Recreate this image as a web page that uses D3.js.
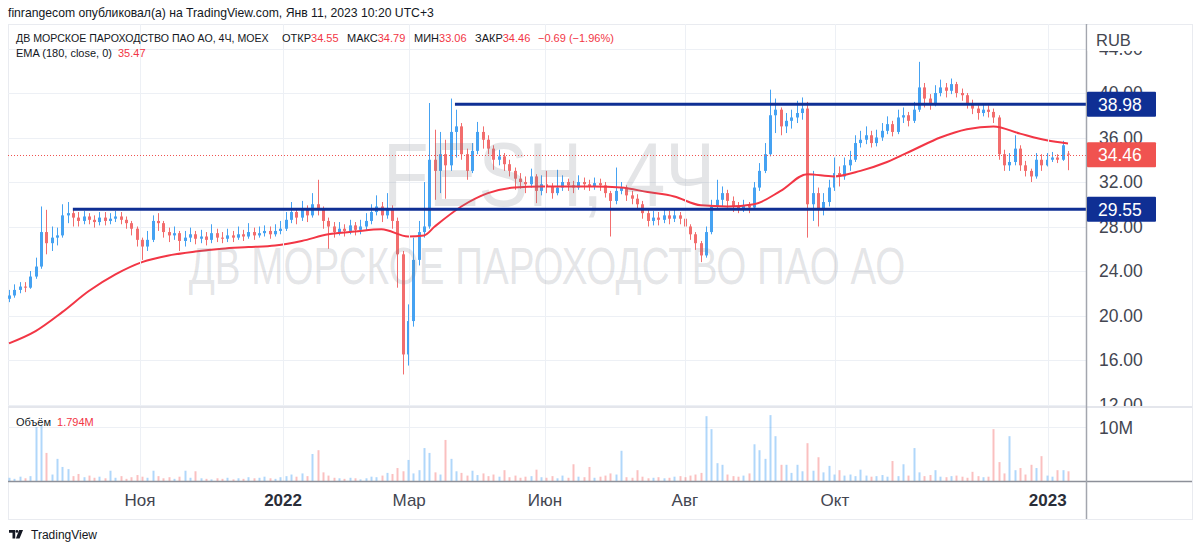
<!DOCTYPE html>
<html><head><meta charset="utf-8">
<script src="https://cdn.jsdelivr.net/npm/d3@7"></script>
<style>
html,body{margin:0;padding:0;background:#fff;}
svg{display:block;font-family:"Liberation Sans",Arial,sans-serif;}
</style></head><body><svg id="c" width="1200" height="551"></svg>
<script>
const opens = [21.5,21.8,22.3,22.6,22.5,23.5,24.4,27.5,26.5,27.0,
27.2,29.0,29.2,28.8,28.5,28.9,28.6,28.4,28.8,28.5,
28.7,28.9,28.6,28.3,27.8,26.8,26.2,26.8,28.5,28.3,
27.5,27.2,27.4,26.7,27.0,27.3,26.9,27.1,26.8,27.4,
27.0,26.9,27.2,27.0,27.3,27.1,27.5,27.2,27.4,27.6,
27.3,27.6,27.8,28.6,29.3,28.8,29.5,29.0,30.0,29.5,
28.5,28.0,27.5,27.8,27.6,28.1,27.7,28.0,28.5,29.3,
29.8,29.0,29.5,28.5,25.5,16.5,19.5,25.0,27.5,28.0,
34.0,33.0,34.5,33.5,36.5,37.0,34.5,33.0,34.8,36.5,
35.8,35.0,34.0,34.3,33.6,33.0,32.3,32.0,31.8,32.5,
31.2,31.8,31.6,31.0,31.5,32.0,31.7,31.5,32.0,31.8,
31.6,31.9,31.7,31.0,30.3,31.2,31.5,30.8,30.5,30.0,
29.2,28.5,28.8,28.6,29.0,28.7,29.0,28.7,28.0,27.3,
26.5,25.4,27.5,29.8,30.4,31.0,30.3,29.8,29.6,29.9,
29.7,31.5,33.0,34.5,38.0,38.5,37.0,37.5,37.8,38.2,
38.6,30.0,31.0,29.5,30.2,31.5,32.8,32.5,33.5,34.0,
35.5,35.8,36.2,35.5,36.0,36.6,37.2,36.5,37.8,38.0,
37.5,38.5,40.5,39.5,39.0,40.0,40.5,40.2,40.8,40.0,
39.8,39.0,38.6,38.2,38.5,38.3,37.8,34.5,33.5,33.8,
35.0,33.5,33.0,32.5,34.0,33.5,34.0,34.2,34.0,34.55];
const highs = [22.3,22.8,23.0,23.0,24.0,25.2,29.8,29.5,28.0,27.9,
30.0,30.2,29.6,29.3,29.4,29.2,29.0,29.3,29.3,29.2,
29.4,29.3,28.9,28.5,28.0,27.0,27.6,29.0,29.2,28.5,
27.9,28.0,27.6,27.6,27.9,27.6,27.7,27.5,28.2,27.8,
27.5,27.8,27.6,28.0,27.7,28.3,27.9,28.0,28.1,28.0,
28.2,28.5,29.3,30.2,29.6,30.3,29.9,31.0,32.2,29.8,
28.8,28.4,28.4,28.2,28.6,28.4,28.6,29.2,30.0,30.8,
30.2,31.0,29.9,28.8,25.8,21.0,27.0,28.5,32.0,39.1,
36.7,36.5,35.8,39.5,38.5,37.3,35.0,35.5,37.4,37.0,
36.2,35.3,34.9,34.6,34.0,33.3,32.8,32.5,33.2,32.7,
32.6,33.0,31.9,33.1,32.6,32.3,32.1,32.6,32.4,32.2,
32.4,32.3,32.0,31.2,33.3,32.0,31.7,31.2,30.9,30.3,
29.5,29.4,29.3,29.6,29.4,29.5,29.3,28.9,28.2,27.5,
26.7,28.0,30.4,32.2,31.6,31.3,30.7,30.2,30.4,30.2,
32.0,33.7,35.5,40.3,39.5,38.7,38.2,38.5,39.3,39.6,
39.2,33.0,31.5,31.0,32.2,34.2,33.4,34.2,34.8,36.2,
36.6,37.0,36.6,36.7,37.3,37.9,37.5,38.5,38.7,38.3,
39.2,42.8,40.9,39.9,40.7,41.2,40.9,41.3,41.0,40.4,
40.0,39.4,38.9,39.1,38.9,38.6,38.0,34.9,34.6,36.2,
35.3,33.9,33.2,34.6,34.5,34.6,34.7,34.5,35.7,34.79];
const lows = [21.2,21.6,22.0,22.1,22.4,23.3,24.2,25.5,25.8,26.3,
27.0,28.3,28.0,28.0,28.2,28.2,27.9,28.1,28.1,28.2,
28.4,28.2,27.8,27.2,26.2,25.0,25.8,26.6,27.6,27.0,
26.6,26.8,25.8,26.2,26.6,26.4,26.5,26.3,26.5,26.6,
26.5,26.6,26.6,26.8,26.7,26.9,26.8,27.0,27.1,26.9,
27.1,27.3,27.6,28.3,28.2,28.5,28.4,28.8,29.0,27.8,
26.0,27.0,27.2,27.1,27.3,27.2,27.3,27.7,28.2,29.0,
28.4,28.7,27.8,22.5,14.7,15.5,19.0,24.5,27.0,27.8,
30.4,31.0,30.5,33.0,34.2,34.0,32.2,32.8,34.5,35.0,
34.5,33.1,33.5,33.0,32.5,31.3,31.4,31.0,31.5,30.1,
30.8,31.0,30.5,30.8,31.2,31.2,31.0,31.3,31.3,31.2,
31.3,31.2,30.6,27.1,30.0,30.9,30.3,30.0,29.5,28.7,
28.0,28.1,28.1,28.3,28.2,28.4,28.2,27.5,26.8,25.9,
24.8,25.2,27.3,29.5,29.8,29.7,29.3,29.2,29.3,29.2,
29.5,31.2,32.8,34.3,36.4,36.2,36.4,36.8,37.3,37.6,
27.0,28.5,28.0,29.0,29.8,31.2,31.6,32.2,33.0,33.8,
35.1,35.4,35.1,35.2,35.7,36.3,36.1,36.3,37.3,37.0,
37.3,38.3,38.7,38.5,38.8,39.7,39.6,39.9,39.6,39.3,
38.6,38.1,37.6,37.9,37.8,37.3,34.0,33.0,33.0,33.5,
33.0,32.5,32.0,32.3,33.0,33.4,33.8,33.7,33.9,33.06];
const closes = [21.8,22.3,22.6,22.5,23.5,24.4,27.5,26.5,27.0,27.2,
29.0,29.2,28.8,28.5,28.9,28.6,28.4,28.8,28.5,28.7,
28.9,28.6,28.3,27.8,26.8,26.2,26.8,28.5,28.3,27.5,
27.2,27.4,26.7,27.0,27.3,26.9,27.1,26.8,27.4,27.0,
26.9,27.2,27.0,27.3,27.1,27.5,27.2,27.4,27.6,27.3,
27.6,27.8,28.6,29.3,28.8,29.5,29.0,30.0,29.5,28.5,
28.0,27.5,27.8,27.6,28.1,27.7,28.0,28.5,29.3,29.8,
29.0,29.5,28.5,25.5,16.5,19.5,25.0,27.5,28.0,34.0,
33.0,34.5,33.5,36.5,37.0,34.5,33.0,34.8,36.5,35.8,
35.0,34.0,34.3,33.6,33.0,32.3,32.0,31.8,32.5,31.2,
31.8,31.6,31.0,31.5,32.0,31.7,31.5,32.0,31.8,31.6,
31.9,31.7,31.0,30.3,31.2,31.5,30.8,30.5,30.0,29.2,
28.5,28.8,28.6,29.0,28.7,29.0,28.7,28.0,27.3,26.5,
25.4,27.5,29.8,30.4,31.0,30.3,29.8,29.6,29.9,29.7,
31.5,33.0,34.5,38.0,38.5,37.0,37.5,37.8,38.2,38.6,
30.0,31.0,29.5,30.2,31.5,32.8,32.5,33.5,34.0,35.5,
35.8,36.2,35.5,36.0,36.6,37.2,36.5,37.8,38.0,37.5,
38.5,40.5,39.5,39.0,40.0,40.5,40.2,40.8,40.0,39.8,
39.0,38.6,38.2,38.5,38.3,37.8,34.5,33.5,33.8,35.0,
33.5,33.0,32.5,34.0,33.5,34.0,34.2,34.0,35.3,34.46];
const volumes = [0.6,0.4,0.8,0.5,0.9,10.0,10.2,5.2,1.2,4.1,
2.6,2.2,0.9,1.3,0.7,1.0,0.6,0.8,0.5,1.9,
0.6,0.9,0.4,0.7,1.1,0.8,0.6,1.9,0.9,0.5,
0.7,0.4,0.8,1.9,0.6,1.8,0.5,0.4,0.3,0.5,
0.4,0.6,0.3,0.5,0.4,0.7,0.5,0.6,0.8,0.5,
0.4,0.7,0.9,1.2,0.8,1.4,0.9,5.0,5.7,1.6,
1.0,0.6,0.5,0.4,0.6,0.5,0.3,0.5,0.8,0.7,
1.0,1.5,1.3,2.4,1.8,3.9,1.4,2.0,6.1,5.2,
1.6,1.2,7.6,4.1,1.8,1.5,1.0,1.9,1.1,1.4,
0.9,1.2,0.8,2.0,0.7,1.0,0.6,0.8,0.9,2.1,
0.7,0.6,0.9,0.5,1.0,0.6,3.1,0.8,0.7,2.6,
0.6,0.8,1.0,1.4,1.2,5.6,0.7,0.6,2.0,0.8,
0.5,0.6,0.7,0.5,0.6,0.8,0.9,0.7,1.0,1.2,
1.5,12.0,9.6,3.3,3.0,1.2,0.9,0.8,1.0,1.4,
6.8,5.7,4.1,12.2,8.3,3.0,3.0,1.5,3.0,1.8,
7.0,1.9,4.4,1.6,2.8,1.2,2.0,1.0,1.2,0.9,
2.1,1.0,0.8,0.9,1.1,0.8,3.7,0.9,3.1,1.0,
6.1,1.6,0.9,1.1,2.0,0.8,0.7,0.9,1.0,0.8,
0.6,1.7,0.9,0.7,0.8,9.6,3.5,1.4,8.3,2.0,
2.4,1.2,3.0,2.4,4.6,1.0,0.8,2.0,2.0,1.794];
const emaBars = [0,5,10,15,20,25,30,35,40,45,50,55,60,65,70,75,78,80,85,90,95,100,105,110,115,120,125,130,135,140,145,150,155,160,165,170,175,180,185,190,195,199];
const emaValues = [17.5,18.6,20.3,22.2,23.7,24.8,25.4,25.75,26.0,26.15,26.3,26.7,27.3,27.55,27.75,27.1,27.2,28.0,29.8,31.0,31.5,31.6,31.6,31.6,31.5,31.1,30.7,29.9,29.8,30.0,31.2,32.7,32.5,33.0,33.8,34.9,36.0,36.75,37.0,36.35,35.75,35.47];
const priceTicks = [12,16,20,24,28,32,36,40,44];
const timeTickBars = [24.6,51.5,75.2,100.7,127.0,155.2,195.2];
const timeTickLabels = ["Ноя","2022","Мар","Июн","Авг","Окт","2023"];
const timeTickBold = [false,true,false,false,false,false,true];
const levelPrices = [38.98, 29.55];
const levelStartBars = [83.8, 12.0];
const lastPrice = 34.46;
const emaLast = 35.47;
const volumeLast = "1.794M";

const UP = "#45a2f2", DOWN = "#f26d6d";
const VUP = "rgba(66,160,242,0.42)", VDOWN = "rgba(242,106,106,0.42)";
const GRID = "#edf0f5";
const N = closes.length;
const L = 8, R = 1086, TOP = 24, SEP = 407, TAX = 481, BOT = 519, RIGHT = 1192;

const svg = d3.select("#c");
const x = d3.scaleLinear().domain([0, N - 1]).range([9, 1068]);
const y = d3.scaleLinear().domain([12, 44]).range([404.5, 48.5]);
const yv = d3.scaleLinear().domain([0, 10]).range([TAX, 427]);

const defs = svg.append("defs");
defs.append("clipPath").attr("id","pp").append("rect").attr("x",L).attr("y",TOP).attr("width",R-L).attr("height",SEP-TOP);
defs.append("clipPath").attr("id","ap").append("rect").attr("x",R).attr("y",TOP).attr("width",RIGHT-R).attr("height",SEP-TOP-1);
defs.append("clipPath").attr("id","vp").append("rect").attr("x",L).attr("y",SEP).attr("width",R-L).attr("height",TAX-SEP);

// frame
svg.append("rect").attr("x",L+0.5).attr("y",TOP+0.5).attr("width",RIGHT-L).attr("height",BOT-TOP).attr("fill","none").attr("stroke","#e9ebf0");

// grids
const g = svg.append("g").attr("clip-path","url(#pp)");
g.selectAll("line.h").data(priceTicks).join("line")
  .attr("x1",L).attr("x2",R).attr("y1",d=>Math.round(y(d))+0.5).attr("y2",d=>Math.round(y(d))+0.5)
  .attr("stroke",GRID);
svg.selectAll("line.v").data(timeTickBars).join("line")
  .attr("x1",d=>Math.round(x(d))+0.5).attr("x2",d=>Math.round(x(d))+0.5).attr("y1",TOP).attr("y2",TAX)
  .attr("stroke",GRID);
svg.append("line").attr("x1",L).attr("x2",R).attr("y1",Math.round(yv(10))+0.5).attr("y2",Math.round(yv(10))+0.5).attr("stroke",GRID);
svg.append("line").attr("x1",L).attr("x2",RIGHT).attr("y1",SEP).attr("y2",SEP).attr("stroke","#e4e6ec").attr("stroke-width",2);

// watermark (sized by measured width, stretched vertically)
function watermark(txt, cx, baseY, targetW, targetFont){
  const t = svg.append("text").attr("text-anchor","middle").attr("font-size",targetFont)
    .attr("fill","rgba(120,123,134,0.2)").text(txt);
  const w = t.node().getComputedTextLength();
  const fs = targetFont * targetW / w;
  t.attr("font-size",fs).attr("transform",`translate(${cx},${baseY}) scale(1,${targetFont/fs})`);
}
watermark("FESH, 4Ч", 549, 206, 332, 90);
watermark("ДВ МОРСКОЕ ПАРОХОДСТВО ПАО АО", 547, 284, 717, 51);

// last price dotted line
svg.append("line").attr("x1",L).attr("x2",R).attr("y1",Math.round(y(lastPrice))+0.5).attr("y2",Math.round(y(lastPrice))+0.5)
  .attr("stroke","#f05350").attr("stroke-dasharray","1,2");

// candles
const pc = g.append("g");
const idx = d3.range(N);
pc.selectAll("line.w").data(idx).join("line")
  .attr("x1",i=>Math.round(x(i))+0.5).attr("x2",i=>Math.round(x(i))+0.5)
  .attr("y1",i=>y(highs[i])).attr("y2",i=>y(lows[i]))
  .attr("stroke",i=>closes[i]>=opens[i]?UP:DOWN).attr("stroke-width",1);
pc.selectAll("rect.b").data(idx).join("rect")
  .attr("x",i=>Math.round(x(i))-1).attr("width",3)
  .attr("y",i=>y(Math.max(opens[i],closes[i])))
  .attr("height",i=>Math.max(1,Math.abs(y(opens[i])-y(closes[i]))))
  .attr("fill",i=>closes[i]>=opens[i]?UP:DOWN);

// EMA
g.append("path").datum(emaBars.map((b,k)=>[b,emaValues[k]]))
  .attr("d",d3.line().x(d=>x(d[0])).y(d=>y(d[1])).curve(d3.curveMonotoneX))
  .attr("fill","none").attr("stroke","#f23645").attr("stroke-width",2);

// horizontal levels
levelPrices.forEach((p,k)=>{
  svg.append("line").attr("x1",x(levelStartBars[k])).attr("x2",R).attr("y1",y(p)).attr("y2",y(p))
    .attr("stroke","#0f2f94").attr("stroke-width",3);
});

// volume
const vg = svg.append("g").attr("clip-path","url(#vp)");
vg.selectAll("rect").data(idx).join("rect")
  .attr("x",i=>Math.round(x(i))-0.5).attr("width",2)
  .attr("y",i=>yv(volumes[i])).attr("height",i=>TAX-yv(volumes[i]))
  .attr("fill",i=>closes[i]>=opens[i]?VUP:VDOWN);

// axis lines
svg.append("line").attr("x1",L).attr("x2",RIGHT).attr("y1",TAX+0.5).attr("y2",TAX+0.5).attr("stroke","#8d9099").attr("stroke-width",1.5);
svg.append("line").attr("x1",R+0.5).attr("x2",R+0.5).attr("y1",TOP).attr("y2",BOT).attr("stroke","#a3a6ae").attr("stroke-width",1.5);

// price axis labels
const AX = 17.5;
const ag = svg.append("g").attr("clip-path","url(#ap)");
ag.selectAll("text").data(priceTicks).join("text")
  .attr("x",1099).attr("y",d=>y(d)).attr("dy","0.36em")
  .attr("font-size",AX).attr("fill","#434651").text(d=>d.toFixed(2));
// RUB box
svg.append("rect").attr("x",R+1.5).attr("y",TOP+1).attr("width",RIGHT-R-2).attr("height",26).attr("fill","#fff");
svg.append("text").attr("x",1096).attr("y",40).attr("dy","0.36em").attr("font-size",16.5).attr("fill","#434651").text("RUB");

// level labels
const boxes = [{p:levelPrices[0],c:"#0f2f94"},{p:levelPrices[1],c:"#0f2f94"},{p:lastPrice,c:"#f05350"}];
boxes.forEach(b=>{
  svg.append("rect").attr("x",R+1).attr("y",y(b.p)-12.5).attr("width",69).attr("height",25).attr("rx",1).attr("fill",b.c);
  svg.append("text").attr("x",1098).attr("y",y(b.p)).attr("dy","0.36em").attr("font-size",AX).attr("fill","#fff").text(b.p.toFixed(2));
});
svg.append("text").attr("x",1099).attr("y",428).attr("dy","0.36em").attr("font-size",AX).attr("fill","#434651").text("10M");

// time axis labels
svg.selectAll("text.t").data(timeTickBars).join("text")
  .attr("x",d=>x(d)).attr("y",500).attr("dy","0.36em").attr("text-anchor","middle")
  .attr("font-size",17).attr("font-weight",(d,k)=>timeTickBold[k]?"bold":"normal")
  .attr("fill",(d,k)=>timeTickBold[k]?"#2a2e39":"#434651")
  .text((d,k)=>timeTickLabels[k]);

// header
svg.append("text").attr("x",8).attr("y",13).attr("dy","0.36em").attr("font-size",12.2).attr("fill","#131722")
  .text("finrangecom опубликовал(а) на TradingView.com, Янв 11, 2023 10:20 UTC+3");
const leg = [
  {x:16,t:"ДВ МОРСКОЕ ПАРОХОДСТВО ПАО АО, 4Ч, MOEX",v:"",fs:10.6},
  {x:282,t:"ОТКР",v:opens[N-1].toFixed(2),fs:11},
  {x:347,t:"МАКС",v:highs[N-1].toFixed(2),fs:11},
  {x:414,t:"МИН",v:lows[N-1].toFixed(2),fs:11},
  {x:475,t:"ЗАКР",v:closes[N-1].toFixed(2),fs:11},
  {x:538,t:"",v:"−0.69 (−1.96%)",fs:11}
];
leg.forEach(l=>{
  const t = svg.append("text").attr("x",l.x).attr("y",38).attr("dy","0.36em").attr("font-size",l.fs);
  t.append("tspan").attr("fill","#131722").text(l.t);
  t.append("tspan").attr("fill","#f23645").text(l.v);
});
const et = svg.append("text").attr("x",16).attr("y",53).attr("dy","0.36em").attr("font-size",11);
et.append("tspan").attr("fill","#131722").text("EMA (180, close, 0)");
et.append("tspan").attr("dx",6).attr("fill","#f23645").text(emaLast.toFixed(2));
const vt = svg.append("text").attr("x",16).attr("y",422).attr("dy","0.36em").attr("font-size",11);
vt.append("tspan").attr("fill","#131722").text("Объём");
vt.append("tspan").attr("dx",6).attr("fill","#f23645").text(volumeLast);

// TradingView logo
const lg = svg.append("g").attr("transform","translate(9,530) scale(0.78)");
lg.append("path").attr("d","M0 0 H8 V11 H4.5 V3.5 H0 Z").attr("fill","#131722");
lg.append("circle").attr("cx",10.2).attr("cy",1.8).attr("r",1.8).attr("fill","#131722");
lg.append("path").attr("d","M13 0 H18 L13.5 11 H8.8 Z").attr("fill","#131722");
svg.append("text").attr("x",31).attr("y",535).attr("dy","0.36em").attr("font-size",12).attr("fill","#131722").text("TradingView");
</script></body></html>
